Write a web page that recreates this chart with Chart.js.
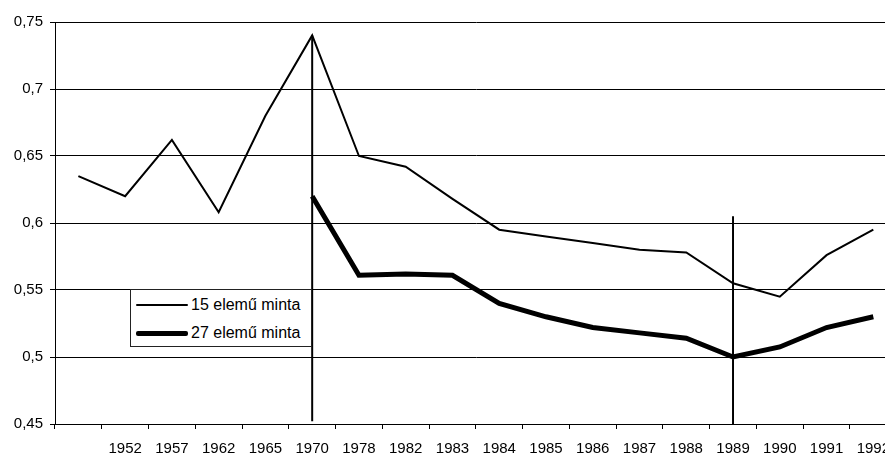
<!DOCTYPE html>
<html>
<head>
<meta charset="utf-8">
<script src="https://cdn.jsdelivr.net/npm/chart.js@4"></script>
<style>
    html, body { margin: 0; padding: 0; background: #fff; overflow: hidden; width: 885px; height: 454px; }
    #wrap { position: relative; width: 885px; height: 454px; overflow: hidden; }
    #chart { position: absolute; left: 0; top: 0; }
    .legend {
        position: absolute; left: 130px; top: 289px; width: 180px; height: 56px;
        border: 1px solid #222; background: #fff;
        font-family: "Liberation Sans", Arial, sans-serif; font-size: 16px; color: #000;
    }
    .legend .row { position: absolute; left: 5px; height: 18px; line-height: 18px; }
    .legend .sample { position: absolute; left: 0; width: 52px; background: #000; border-radius: 2px; }
    .legend .label { position: absolute; left: 55px; white-space: nowrap; }
</style>
</head>
<body>
<div id="wrap">
    <canvas id="chart" width="901" height="460"></canvas>
    <div class="legend">
        <div class="row" style="top:6px"><div class="sample" style="top:8px;height:2px"></div><div class="label">15 elemű minta</div></div>
        <div class="row" style="top:34px"><div class="sample" style="top:7px;height:5px"></div><div class="label">27 elemű minta</div></div>
    </div>
</div>
<script>
// Évek (az első kategória felirat nélküli)
const categories = ['', '1952', '1957', '1962', '1965', '1970', '1978', '1982', '1983', '1984',
    '1985', '1986', '1987', '1988', '1989', '1990', '1991', '1992'];

// 15 elemű minta
const series15 = [0.635, 0.620, 0.662, 0.608, 0.680, 0.740, 0.650, 0.642, 0.618, 0.595,
    0.590, 0.585, 0.580, 0.578, 0.555, 0.545, 0.576, 0.595];

// 27 elemű minta (1970-től)
const series27 = [null, null, null, null, null, 0.620, 0.561, 0.562, 0.561, 0.540,
    0.530, 0.522, 0.518, 0.514, 0.500, 0.5075, 0.522, 0.530];

// Függőleges jelölő vonalak
const marker1970 = [{ x: '1970', y: 0.740 }, { x: '1970', y: 0.452 }];
const marker1989 = [{ x: '1989', y: 0.605 }, { x: '1989', y: 0.450 }];

const yMin = 0.45, yMax = 0.75, yStep = 0.05;

const font = { family: '"Liberation Sans", Arial, sans-serif', size: 15 };

const ctx = document.getElementById('chart').getContext('2d');
new Chart(ctx, {
    type: 'line',
    data: {
        labels: categories,
        datasets: [
            { label: '15 elemű minta', data: series15, borderColor: '#000', borderWidth: 2, pointRadius: 0, tension: 0 },
            { label: '27 elemű minta', data: series27, borderColor: '#000', borderWidth: 5, pointRadius: 0, tension: 0, spanGaps: false },
            { label: 'v1970', data: marker1970, borderColor: '#000', borderWidth: 2, pointRadius: 0 },
            { label: 'v1989', data: marker1989, borderColor: '#000', borderWidth: 2, pointRadius: 0 }
        ]
    },
    options: {
        responsive: false,
        devicePixelRatio: 1,
        animation: false,
        layout: { padding: { top: 22, left: 0, right: 0, bottom: 0 } },
        plugins: {
            legend: { display: false },
            tooltip: { enabled: false }
        },
        scales: {
            x: {
                offset: true,
                grid: { offset: true, drawOnChartArea: false, drawTicks: true, tickLength: 5, color: '#000' },
                border: { color: '#000', width: 1 },
                ticks: { color: '#000', font: font, padding: 11, maxRotation: 0, autoSkip: false },
                afterFit: scale => { scale.height = 36; }
            },
            y: {
                min: yMin,
                max: yMax,
                grid: { color: '#000', lineWidth: 1, tickLength: 5 },
                border: { color: '#000', width: 1 },
                ticks: {
                    stepSize: yStep,
                    color: '#000',
                    font: font,
                    padding: 7,
                    callback: v => String(Number(v.toFixed(2))).replace('.', ',')
                },
                afterFit: scale => { scale.width = 55; }
            }
        }
    }
});
</script>
</body>
</html>
